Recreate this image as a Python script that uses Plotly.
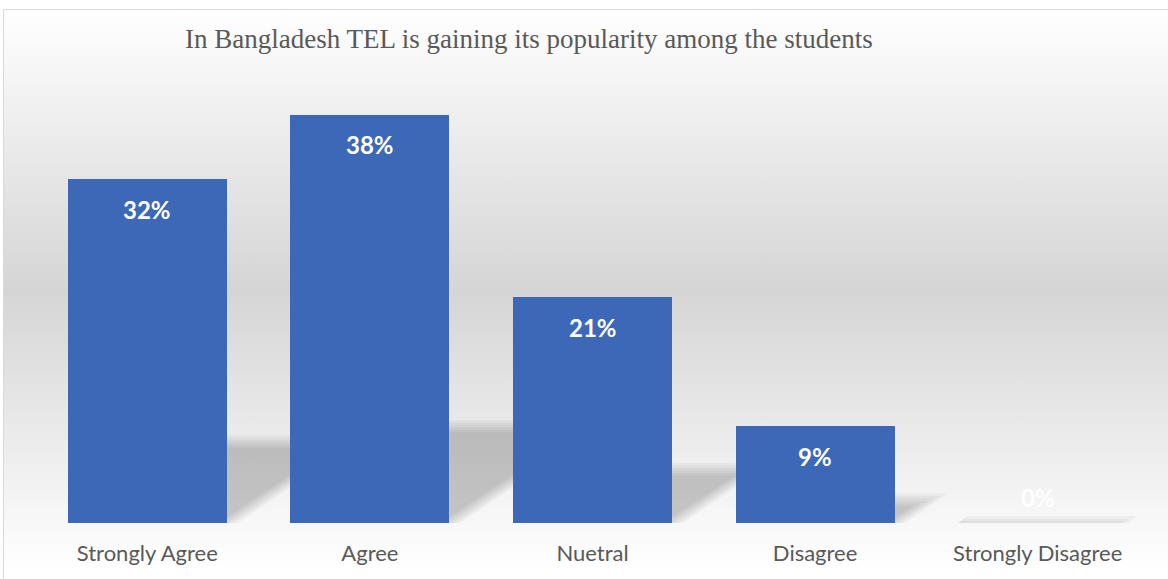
import base64
import plotly.graph_objects as go

# Survey responses
categories = ["Strongly Agree", "Agree", "Nuetral", "Disagree", "Strongly Disagree"]
percentages = [32, 38, 21, 9, 0]
title_text = "In Bangladesh TEL is gaining its popularity among the students"

W, H = 1168, 579
ML, MR, MT, MB = 36, 19, 93, 56
plot_w = W - ML - MR
plot_h = H - MT - MB
y_max = 40

BAR_W = 1 / 1.4          # Excel-style 40% gap width
x_pos = list(range(len(categories)))

fig = go.Figure()

# soft perspective shadows cast behind each bar (drawn on the lower axis pair);
# stacked translucent layers grown/shrunk by a few pixels fake the blur
px_per_x = plot_w / len(categories)
px_per_y = plot_h / y_max
HEIGHT_F, SHIFT_F = 0.235, 0.35
blur_px = [7, 4.5, 2, -0.5, -3, -5.5]
for e in blur_px:
    for xc, v in zip(x_pos, percentages):
        h_px = v * px_per_y
        top_px = HEIGHT_F * h_px + e
        if top_px <= 0:
            continue
        shift = (SHIFT_F * h_px + e * 1.2) / px_per_x
        grow = 1.6 * e / px_per_x
        top = top_px / px_per_y
        left = xc - BAR_W / 2
        right = xc + BAR_W / 2 + grow
        fig.add_trace(go.Scatter(
            x=[left, right, right + shift, left + shift, left],
            y=[0, 0, top, top, 0],
            mode="lines", fill="toself",
            fillcolor="rgba(0,0,0,0.034)",
            line=dict(width=0),
            hoverinfo="skip", showlegend=False,
            xaxis="x", yaxis="y",
        ))

# bars on an overlaying axis pair so they sit above the shadows
fig.add_trace(go.Bar(
    x=x_pos, y=percentages, width=BAR_W,
    marker=dict(color="#3c68b7", line=dict(width=0)),
    xaxis="x2", yaxis="y2", showlegend=False,
    hovertemplate="%{customdata}: %{y}%<extra></extra>",
    customdata=categories,
))

# data labels
for xc, v in zip(x_pos, percentages):
    fig.add_annotation(
        x=xc, y=v, xref="x2", yref="y2",
        text=f"{v}%", showarrow=False,
        yanchor="middle", yshift=-30 if v > 0 else 26,
        font=dict(family="Lato", size=24, color="white", weight="bold"),
    )

# title
fig.add_annotation(
    x=(529 - ML) / plot_w, y=(H - MB - 39) / plot_h,
    xref="paper", yref="paper", xanchor="center", yanchor="middle",
    text=title_text, showarrow=False,
    font=dict(family="Liberation Serif", size=27, color="#595959"),
)

# chart-area gradient background
svg = (
    "<svg xmlns='http://www.w3.org/2000/svg' width='100' height='100' "
    "viewBox='0 0 100 100' preserveAspectRatio='none'>"
    "<defs><linearGradient id='g' x1='0' y1='0' x2='0' y2='1'>"
    "<stop offset='0' stop-color='#ffffff'/>"
    "<stop offset='0.5' stop-color='#d5d5d5'/>"
    "<stop offset='1' stop-color='#ffffff'/>"
    "</linearGradient></defs>"
    "<rect width='100' height='100' fill='url(#g)'/></svg>"
)
src = "data:image/svg+xml;base64," + base64.b64encode(svg.encode()).decode()
box_left, box_top, box_bottom = 3, 9, 571
fig.add_layout_image(
    source=src, xref="paper", yref="paper",
    x=(box_left - ML) / plot_w, y=(H - MB - box_top) / plot_h,
    sizex=(W - box_left + 10) / plot_w, sizey=(box_bottom - box_top) / plot_h,
    xanchor="left", yanchor="top", sizing="stretch", layer="below",
)

# chart-area border
fig.add_shape(
    type="rect", xref="paper", yref="paper",
    x0=(box_left + 0.5 - ML) / plot_w, x1=(W + 20 - ML) / plot_w,
    y0=(H - MB - (H + 20)) / plot_h, y1=(H - MB - box_top - 0.5) / plot_h,
    line=dict(color="#d9d9d9", width=1), fillcolor="rgba(0,0,0,0)",
    layer="above",
)

axis_common = dict(range=[-0.5, len(categories) - 0.5], showgrid=False,
                   zeroline=False, showline=False)
fig.update_layout(
    width=W, height=H,
    margin=dict(l=ML, r=MR, t=MT, b=MB, pad=0),
    paper_bgcolor="white", plot_bgcolor="rgba(0,0,0,0)",
    xaxis=dict(**axis_common, tickmode="array", tickvals=x_pos,
               ticktext=categories, ticks="", ticklabelstandoff=15,
               tickfont=dict(family="Lato", size=22, color="#595959")),
    yaxis=dict(range=[0, y_max], visible=False),
    xaxis2=dict(**axis_common, overlaying="x", visible=False),
    yaxis2=dict(range=[0, y_max], overlaying="y", visible=False),
    bargap=0,
)

fig.write_html("out.html")
